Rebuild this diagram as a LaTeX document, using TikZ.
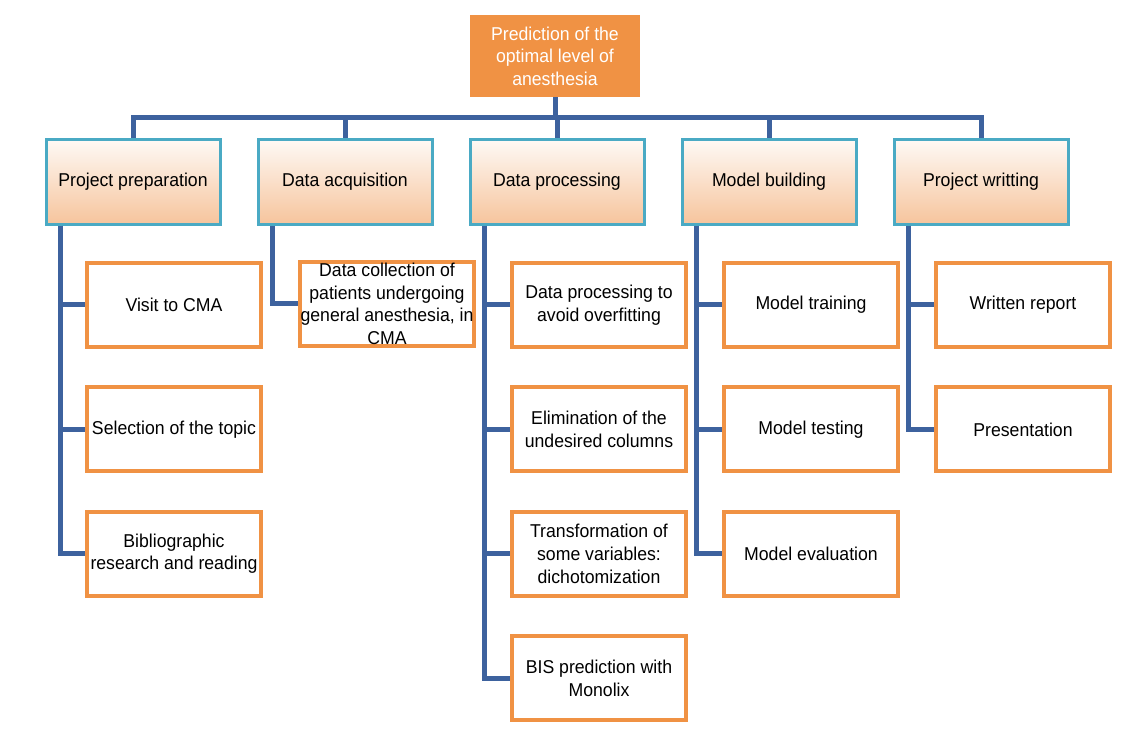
\documentclass[tikz,border=0pt]{standalone}
\usepackage{fontspec}
\setmainfont[FakeStretch=0.95]{Liberation Sans}
\definecolor{orangebox}{RGB}{240,146,68}
\definecolor{peach}{RGB}{246,196,156}
\definecolor{tealline}{RGB}{74,170,196}
\definecolor{linkblue}{RGB}{61,98,158}
\usetikzlibrary{positioning, shadows}

\begin{document}
\begin{tikzpicture}[
        x=0.5pt, y=-0.5pt,
        node distance=18.2pt and 17.5pt,
        every node/.style={font=\fontsize{9.3}{11.3}\selectfont, align=center},
        goal/.style={rectangle, fill=orangebox, text=white, minimum width=85pt, minimum height=41pt, inner sep=2pt},
        phase/.style={rectangle, draw=tealline, line width=1.5pt, top color=peach!10, bottom color=peach, minimum width=87pt, minimum height=42.5pt, drop shadow={opacity=0.2, shadow xshift=0.8pt, shadow yshift=-0.8pt}},
        task/.style={rectangle, draw=orangebox, line width=2pt, fill=white, minimum width=87pt, minimum height=42pt, inner sep=0.5pt},
        link/.style={draw=linkblue, line width=2.5pt}
    ]
        \useasboundingbox (0,0) rectangle (1132,733);

        \node[goal] (goal) at (555,56) {Prediction of the\\optimal level of\\anesthesia};
        \coordinate (bus) at (555,118);

        \node[phase] (dp) at (557,182) {Data processing};
        \node[phase, left=of dp] (da) {Data acquisition};
        \node[phase, left=of da] (pp) {Project preparation};
        \node[phase, right=of dp] (mb) {Model building};
        \node[phase, right=of mb] (pw) {Project writting};

        \node[task, below=17.5pt of pp, xshift=20.5pt] (pp1) {Visit to CMA};
        \node[task, below=of pp1] (pp2) {Selection of the topic};
        \node[task, below=of pp2] (pp3) {Bibliographic\\research and reading};

        \node[task, below=17pt of da, xshift=21pt] (da1) {Data collection of\\patients undergoing\\general anesthesia, in\\CMA};

        \node[task, below=17.5pt of dp, xshift=21pt] (dp1) {Data processing to\\avoid overfitting};
        \node[task, below=of dp1] (dp2) {Elimination of the\\undesired columns};
        \node[task, below=of dp2] (dp3) {Transformation of\\some variables:\\dichotomization};
        \node[task, below=of dp3] (dp4) {BIS prediction with\\Monolix};

        \node[task, below=17.5pt of mb, xshift=21pt] (mb1) {Model training};
        \node[task, below=of mb1] (mb2) {Model testing};
        \node[task, below=of mb2] (mb3) {Model evaluation};

        \node[task, below=17.5pt of pw, xshift=21pt] (pw1) {Written report};
        \node[task, below=of pw1] (pw2) {Presentation};

        % bus from the goal to the phases
        \draw[link] (goal.south) -- (bus);
        \draw[link] (pp.north) |- (bus) -| (pw.north);
        \foreach \h in {da,dp,mb}
            \draw[link] (\h.north) -- (\h.north |- bus);

        % phases to tasks
        \foreach \n in {pp1,pp2,pp3}
            \draw[link] ([xshift=8pt]pp.south west) |- (\n.west);
        \draw[link] ([xshift=8pt]da.south west) |- (da1.west);
        \foreach \n in {dp1,dp2,dp3,dp4}
            \draw[link] ([xshift=8pt]dp.south west) |- (\n.west);
        \foreach \n in {mb1,mb2,mb3}
            \draw[link] ([xshift=8pt]mb.south west) |- (\n.west);
        \foreach \n in {pw1,pw2}
            \draw[link] ([xshift=8pt]pw.south west) |- (\n.west);
    \end{tikzpicture}
\end{document}
